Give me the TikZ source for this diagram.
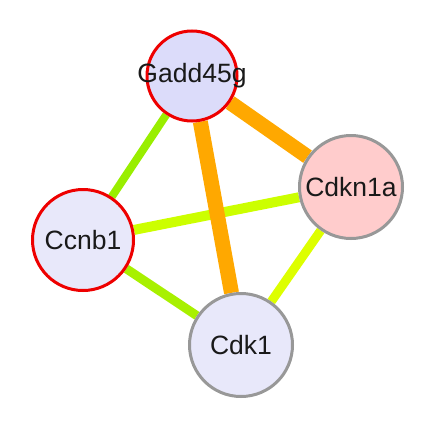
\documentclass[tikz,border=0pt]{standalone}
\usepackage{fontspec}
\setmainfont{Liberation Sans}
\usetikzlibrary{positioning,backgrounds}
\definecolor{hitred}{RGB}{238,0,0}
\definecolor{plaingray}{RGB}{152,152,152}
\definecolor{lavA}{RGB}{220,220,250}
\definecolor{lavB}{RGB}{232,232,250}
\definecolor{pinkA}{RGB}{255,204,204}
\definecolor{strongE}{RGB}{255,168,0}
\definecolor{limeA}{RGB}{153,238,0}
\definecolor{limeB}{RGB}{168,240,0}
\definecolor{limeC}{RGB}{204,255,0}
\definecolor{limeD}{RGB}{221,255,0}
\tikzstyle{gene}=[draw,circle,line width=3pt,inner sep=0pt,
  text=black!90,font=\fontsize{26.5}{26.5}\selectfont]
\tikzstyle{hit}=[gene,draw=hitred]
\tikzstyle{plain}=[gene,draw=plaingray]
\newcommand{\newGene}[4]{\node[#3](#1) at (#4){\makebox[0pt]{#2}};}
\newcommand{\newLink}[3]{\path (#1) edge [#3] (#2);}

\begin{document}
\begin{tikzpicture}[x=1pt,y=-1pt]
    \useasboundingbox (0,0) rectangle (435,431);
    \newGene{G}{Gadd45g}{hit,fill=lavA,minimum size=90pt}{192,76}
    \newGene{K}{Cdkn1a}{plain,fill=pinkA,minimum size=103pt}{351,187}
    \newGene{B}{Ccnb1}{hit,fill=lavB,minimum size=101pt}{83,240}
    \newGene{C}{Cdk1}{plain,fill=lavB,minimum size=103pt}{241,345}
    \begin{scope}[on background layer]
    \newLink{G}{B}{draw=limeA,line width=8pt}
    \newLink{B}{C}{draw=limeB,line width=9pt}
    \newLink{B}{K}{draw=limeC,line width=10pt}
    \newLink{K}{C}{draw=limeD,line width=9pt}
    \newLink{G}{C}{draw=strongE,line width=15pt}
    \newLink{G}{K}{draw=strongE,line width=15pt}
    \end{scope}
  \end{tikzpicture}
\end{document}
